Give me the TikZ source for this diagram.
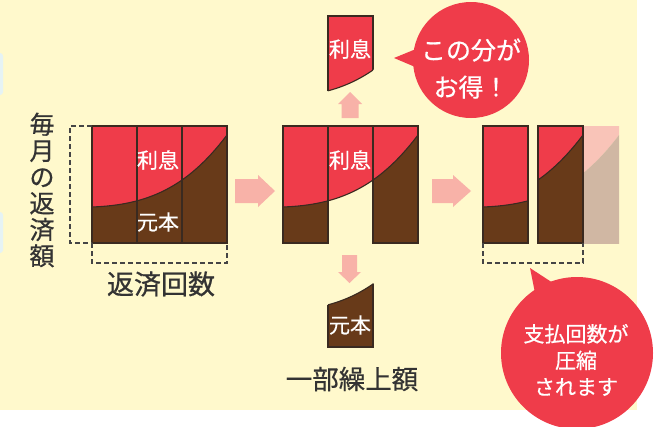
\documentclass[tikz,border=0pt]{standalone}
\usepackage{fontspec}
\setmainfont{Noto Sans CJK JP}
\newfontfamily\jpthick{Noto Sans CJK JP}[FakeBold=0.6]
\definecolor{bgy}{HTML}{FFF9CC}
\definecolor{redc}{HTML}{EF3C4A}
\definecolor{brownc}{HTML}{683A19}
\definecolor{edgec}{HTML}{3A2A20}
\definecolor{arrowp}{HTML}{F8B2A8}
\definecolor{ghostp}{HTML}{F9C4B8}
\definecolor{ghostb}{HTML}{D0B7A3}
\definecolor{txtc}{HTML}{333333}
\definecolor{dashc}{HTML}{454545}
\definecolor{lblue}{HTML}{E6F3F4}
% region paths of one block whose left edge is #1
\newcommand\pRed[1]{(#1-10,100) -- (#1-10,207) -- (#1,207) .. controls (#1+55,205) and (#1+95,188) .. (#1+135,135) -- (#1+145,135) -- (#1+145,100) -- cycle}
\newcommand\pBrown[1]{(#1-10,260) -- (#1-10,207) -- (#1,207) .. controls (#1+55,205) and (#1+95,188) .. (#1+135,135) -- (#1+145,135) -- (#1+145,260) -- cycle}
\newcommand\pCurve[1]{(#1,207) .. controls (#1+55,205) and (#1+95,188) .. (#1+135,135)}
% #1 block x, #2 column index, #3 shift x, #4 shift y
\newcommand\fullcol[4]{%
\begin{scope}[shift={(#3,#4)}]
\begin{scope}\clip (#1+45*#2,126) rectangle ++(45,117);
\fill[redc] \pRed{#1}; \fill[brownc] \pBrown{#1}; \draw[edgel] \pCurve{#1};
\end{scope}
\draw[edgel] (#1+45*#2,126) rectangle ++(45,117);
\end{scope}}
\newcommand\redcol[4]{%
\begin{scope}[shift={(#3,#4)}]
\begin{scope}\clip (#1+45*#2,126) rectangle ++(45,117);
\fill[redc] \pRed{#1}; \draw[edgel] \pCurve{#1};
\end{scope}
\begin{scope}\clip \pRed{#1};
\draw[edgel] (#1+45*#2,126) rectangle ++(45,117);
\end{scope}
\end{scope}}
\newcommand\browncol[4]{%
\begin{scope}[shift={(#3,#4)}]
\begin{scope}\clip (#1+45*#2,126) rectangle ++(45,117);
\fill[brownc] \pBrown{#1}; \draw[edgel] \pCurve{#1};
\end{scope}
\begin{scope}\clip \pBrown{#1};
\draw[edgel] (#1+45*#2,126) rectangle ++(45,117);
\end{scope}
\end{scope}}
\newcommand\ghostcol[4]{%
\begin{scope}[shift={(#3,#4)}]
\begin{scope}\clip (#1+45*#2,126) rectangle ++(45,117);
\fill[ghostp] \pRed{#1}; \fill[ghostb] \pBrown{#1};
\end{scope}
\end{scope}}
\begin{document}
\begin{tikzpicture}[x=1pt,y=-1pt,
  edgel/.style={draw=edgec,line width=1.1pt},
  dashl/.style={draw=dashc,line width=1.1pt,dash pattern=on 5pt off 3pt},
  blockarrow/.style={fill=arrowp},
  lbl/.style={text=white,font=\jpthick\fontsize{21}{24}\selectfont,inner sep=0pt},
  caption/.style={text=txtc,inner sep=0pt},
  bubtext/.style={text=white,inner sep=0pt,align=center}]
\useasboundingbox (0,0) rectangle (672,426);
\fill[white] (0,0) rectangle (672,426);
\fill[bgy] (0,0) rectangle (637,410);
\fill[lblue,rounded corners=3pt] (-6,53) rectangle (3,95);
\fill[lblue,rounded corners=3pt] (-6,212) rectangle (3,253);

% block 1
\fullcol{92}{0}{0}{0}
\fullcol{92}{1}{0}{0}
\fullcol{92}{2}{0}{0}
\node[lbl] (int1) at (158,160) {利息};
\node[lbl] (prin1) at (158,222) {元本};
\draw[dashl] (92,126) -- (70,126) -- (70,243) -- (92,243);
\draw[dashl] (92,243) -- (92,263) -- (227,263) -- (227,243);
\node[caption,align=center,font=\jpthick\fontsize{25}{26.3}\selectfont] (monthly) at (42,190) {毎\\月\\の\\返\\済\\額};
\node[caption,font=\jpthick\fontsize{27}{30}\selectfont] (count) at (161,284) {返済回数};

% arrow 1
\fill[blockarrow] (235,179) -- (258,179) -- (258,175) -- (275,191) -- (258,207) -- (258,203) -- (235,203) -- cycle;

% block 2
\fullcol{283}{0}{0}{0}
\redcol{283}{1}{0}{0}
\fullcol{283}{2}{0}{0}
\node[lbl] (int2) at (350,160) {利息};
% up arrow and detached interest
\fill[blockarrow] (341.5,118) -- (341.5,104) -- (338,104) -- (350,92) -- (362,104) -- (358.5,104) -- (358.5,118) -- cycle;
\redcol{283}{1}{0}{-110}
\node[lbl] (int3) at (350,49) {利息};
% down arrow and detached principal
\fill[blockarrow] (342,255) -- (357,255) -- (357,272) -- (361,272) -- (349.5,283) -- (338,272) -- (342,272) -- cycle;
\browncol{283}{1}{0}{104}
\node[lbl] (prin3) at (350,325) {元本};
\node[caption,font=\jpthick\fontsize{26.5}{30}\selectfont] (prepay) at (352,379) {一部繰上額};

% bubble 1
\fill[redc] (471,60) circle (58);
\fill[redc] (394,58) -- (416,49) -- (420,69) -- cycle;
\node[bubtext,font=\jpthick\fontsize{25}{37}\selectfont] (gain) at (471,68.5) {この分が\\お得！};

% arrow 2
\fill[blockarrow] (432,179) -- (453,179) -- (453,175) -- (471,191) -- (453,207) -- (453,203) -- (432,203) -- cycle;

% block 3
\fullcol{92}{0}{391}{0}
\ghostcol{92}{2}{392}{0}
\fullcol{92}{2}{356}{0}
\draw[dashl] (483,243) -- (483,263) -- (583,263) -- (583,243);

% bubble 2
\fill[redc] (577,353) circle (76);
\fill[redc] (530,268) -- (535,293) -- (553,283) -- cycle;
\node[bubtext,font=\jpthick\fontsize{21}{26.5}\selectfont] (shrink) at (576,360) {支払回数が\\圧縮\\されます};
\end{tikzpicture}
\end{document}
